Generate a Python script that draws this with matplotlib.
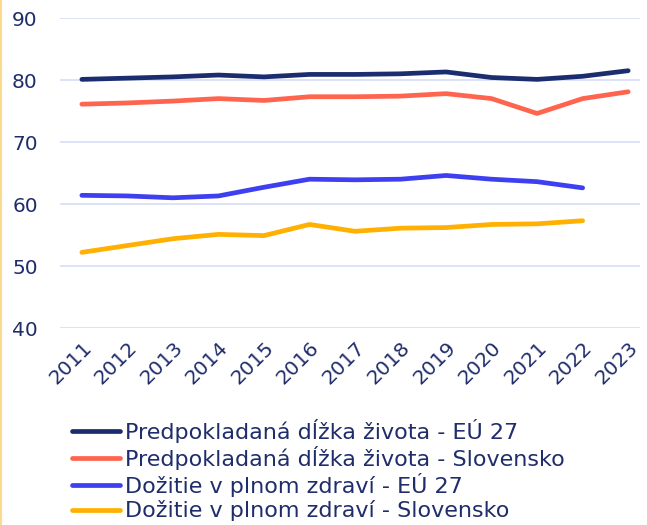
import matplotlib.pyplot as plt
from matplotlib.lines import Line2D

plt.rcParams['font.family'] = ['DejaVu Sans']

years = [2011, 2012, 2013, 2014, 2015, 2016, 2017, 2018, 2019, 2020, 2021, 2022, 2023]
le_eu = [80.1, 80.3, 80.5, 80.8, 80.5, 80.9, 80.9, 81.0, 81.3, 80.4, 80.1, 80.6, 81.5]
le_sk = [76.1, 76.3, 76.6, 77.0, 76.7, 77.3, 77.3, 77.4, 77.8, 77.0, 74.6, 77.0, 78.1]
hly_years = years[:-1]
hly_eu = [61.4, 61.3, 61.0, 61.3, 62.7, 64.0, 63.9, 64.0, 64.6, 64.0, 63.6, 62.6]
hly_sk = [52.2, 53.3, 54.4, 55.1, 54.9, 56.7, 55.6, 56.1, 56.2, 56.7, 56.8, 57.3]

labels = ['Predpokladaná dĺžka života - EÚ 27',
          'Predpokladaná dĺžka života - Slovensko',
          'Dožitie v plnom zdraví - EÚ 27',
          'Dožitie v plnom zdraví - Slovensko']
colors = ['#1b2d6e', '#ff644e', '#3d3ff0', '#ffb000']
text_color = '#1f2d6b'

fig = plt.figure(figsize=(6.47, 5.25), dpi=100)
ax = fig.add_axes([60 / 647, 1 - 328 / 525, 580 / 647, 310 / 525])

series = [(years, le_eu), (years, le_sk), (hly_years, hly_eu), (hly_years, hly_sk)]
for (x, y), c, lab in zip(series, colors, labels):
    ax.plot(x, y, color=c, lw=3.4, solid_capstyle='round', solid_joinstyle='round', label=lab, zorder=3)

ax.set_ylim(40, 90)
ax.set_yticks([40, 50, 60, 70, 80, 90])
ax.set_xlim(2010.52, 2023.26)
ax.set_xticks(years)
ax.set_xticklabels([str(y) for y in years], rotation=45, ha='right', va='top',
                   rotation_mode='anchor')
ax.tick_params(axis='both', length=0, labelsize=14.5, labelcolor=text_color)
ax.tick_params(axis='y', pad=16)
ax.tick_params(axis='x', pad=7)
ax.grid(axis='y', color='#d5def5', lw=1.2)
ax.set_axisbelow(True)
for s in ax.spines.values():
    s.set_visible(False)

handles = [Line2D([], [], color=c, lw=3.4, solid_capstyle='round') for c in colors]
fig.legend(handles, labels, loc='upper left', bbox_to_anchor=(72 / 647, 1 - 419 / 525),
           frameon=False, fontsize=16, handlelength=2.15, handletextpad=0.25,
           labelspacing=0.14, borderaxespad=0, borderpad=0, labelcolor=text_color)

# thin yellow border at left edge
fig.add_artist(Line2D([0.002, 0.002], [0, 1], color='#fbdc8e', lw=1.5, transform=fig.transFigure))

plt.savefig('out.png', dpi=100)
